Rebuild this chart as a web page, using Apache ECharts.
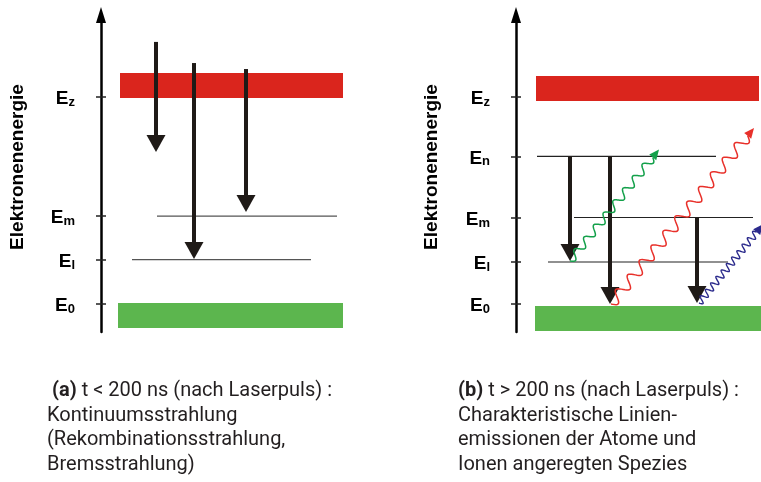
<!DOCTYPE html>
<html><head><meta charset="utf-8">
<script src="https://cdn.jsdelivr.net/npm/echarts@6/dist/echarts.min.js"></script>
<style>html,body{margin:0;padding:0;background:#fff}#c{width:761px;height:482px}</style>
</head><body><div id="c"></div>
<script>
// Energy scale (arbitrary units): E0 = 0, Ez = 100. x = distance from the energy axis.
const leftLevelNames = ['0', 'l', 'm', 'z'];
const leftLevelValues = [0, 21.5, 42.5, 100];
const rightLevelNames = ['0', 'l', 'm', 'n', 'z'];
const rightLevelValues = [0, 20.3, 41.8, 71.3, 100];

// bands: [xStart, xEnd, eLow, eHigh]
const leftRedBand = [19, 242, 99.5, 111.6];
const leftGreenBand = [17, 242, -11.6, 0.5];
const rightRedBand = [20, 243, 98.1, 110.1];
const rightGreenBand = [19, 245, -13, -1];

// level lines: [xStart, xEnd, energy]
const leftLines = [[56, 236, 42.5], [31, 210, 21.5]];
const rightLines = [[21, 200, 71.3], [58, 237, 41.8], [32, 212, 20.3]];

// transition arrows: [x, eFrom, eTo]
const leftArrows = [[55, 126.6, 73.4], [93, 116.4, 21.7], [145, 113.5, 44.4]];
const rightArrows = [[54, 71.3, 20.8], [94, 71.3, 0], [181, 41.8, 0.5]];

// emitted photons: [xStart, eStart, xEnd, eEnd]
const greenPhoton = [54, 20.8, 143, 74.6];
const redPhoton = [95, 0, 238, 85];
const bluePhoton = [183, 0.5, 247, 38.5];

const captionA = [' {b|(a)} t < 200 ns (nach Laserpuls) :', 'Kontinuumsstrahlung', '(Rekombinationsstrahlung,', 'Bremsstrahlung)'];
const captionB = ['{b|(b)} t > 200 ns (nach Laserpuls) :', 'Charakteristische Linien-', 'emissionen der Atome und', 'Ionen angeregten Spezies'];
const axisTitle = 'Elektronenenergie';

const E_MIN = -13.5, E_MAX = 139.6;
const labelFont = '"Liberation Sans", Arial, sans-serif';
const capFont = 'Roboto, "Liberation Sans", sans-serif';

function labelFormatter(values, names) {
  return function (v) {
    let idx = 0, best = Infinity;
    values.forEach((x, i) => { const d = Math.abs(x - v); if (d < best) { best = d; idx = i; } });
    return '{e|E}{s|' + names[idx] + '}';
  };
}
const labelRich = {
  e: { fontSize: 19, fontWeight: 'bold', fontFamily: labelFont, color: '#000', lineHeight: 22 },
  s: { fontSize: 13, fontWeight: 'bold', fontFamily: labelFont, color: '#000', lineHeight: 22, padding: [7, 0, 0, 0] }
};

function mainYAxis(grid, values, names) {
  return {
    type: 'value', gridIndex: grid, min: E_MIN, max: E_MAX, position: 'left',
    axisLine: { show: true, onZero: false, symbol: ['none', 'triangle'], symbolSize: [10, 16],
      lineStyle: { color: '#000', width: 2.5 } },
    axisTick: { show: true, customValues: values, length: 5, lineStyle: { color: '#222', width: 1.5 } },
    axisLabel: { show: true, customValues: values, margin: 26, formatter: labelFormatter(values, names),
      fontSize: 19, fontWeight: 'bold', fontFamily: labelFont, color: '#000',
      rich: labelRich, padding: [4, 0, 0, 0] },
    splitLine: { show: false }
  };
}
function innerYAxis(grid, values) {
  return {
    type: 'value', gridIndex: grid, min: E_MIN, max: E_MAX, position: 'left',
    axisLine: { show: false, onZero: false },
    axisTick: { show: true, inside: true, customValues: values, length: 5, lineStyle: { color: '#222', width: 1.5 } },
    axisLabel: { show: false },
    splitLine: { show: false }
  };
}

function bandSeries(xi, yi, items) {
  return {
    type: 'custom', xAxisIndex: xi, yAxisIndex: yi, silent: true,
    data: items,
    renderItem: function (params, api) {
      const p0 = api.coord([api.value(0), api.value(3)]);
      const p1 = api.coord([api.value(1), api.value(2)]);
      return { type: 'rect', shape: { x: p0[0], y: p0[1], width: p1[0] - p0[0], height: p1[1] - p0[1] },
        style: { fill: api.visual('color') } };
    }
  };
}
function lineSeries(xi, yi, items, color) {
  return {
    type: 'custom', xAxisIndex: xi, yAxisIndex: yi, silent: true, data: items,
    renderItem: function (params, api) {
      const p0 = api.coord([api.value(0), api.value(2)]);
      const p1 = api.coord([api.value(1), api.value(2)]);
      return { type: 'line', shape: { x1: p0[0], y1: p0[1], x2: p1[0], y2: p1[1] },
        style: { stroke: color, lineWidth: 1.2 } };
    }
  };
}
function arrowSeries(xi, yi, items) {
  return {
    type: 'custom', xAxisIndex: xi, yAxisIndex: yi, silent: true, data: items, z: 5,
    renderItem: function (params, api) {
      const a = api.coord([api.value(0), api.value(1)]);
      const b = api.coord([api.value(0), api.value(2)]);
      const headH = 17, headW = 19, shaftW = 4;
      return { type: 'group', children: [
        { type: 'rect', shape: { x: a[0] - shaftW / 2, y: a[1], width: shaftW, height: b[1] - headH - a[1] + 1 },
          style: { fill: '#1f1a17' } },
        { type: 'polygon', shape: { points: [[b[0] - headW / 2, b[1] - headH], [b[0] + headW / 2, b[1] - headH], [b[0], b[1]]] },
          style: { fill: '#1f1a17' } }
      ] };
    }
  };
}
function photonSeries(xi, yi, item, color, amp, periods, width) {
  return {
    type: 'custom', xAxisIndex: xi, yAxisIndex: yi, silent: true, data: [item], z: 6,
    renderItem: function (params, api) {
      const a = api.coord([api.value(0), api.value(1)]);
      const b = api.coord([api.value(2), api.value(3)]);
      const dx = b[0] - a[0], dy = b[1] - a[1];
      const len = Math.sqrt(dx * dx + dy * dy);
      const ux = dx / len, uy = dy / len, nx = -uy, ny = ux;
      const headL = 10, headW = 9;
      const waveLen = len - headL;
      const pts = [];
      const n = 240;
      for (let i = 0; i <= n; i++) {
        const t = i / n;
        const s = t * waveLen;
        const o = amp * Math.sin(t * periods * 2 * Math.PI);
        pts.push([a[0] + ux * s + nx * o, a[1] + uy * s + ny * o]);
      }
      const base = [a[0] + ux * waveLen, a[1] + uy * waveLen];
      return { type: 'group', children: [
        { type: 'polyline', shape: { points: pts }, style: { stroke: color, lineWidth: width, fill: null } },
        { type: 'polygon', shape: { points: [[base[0] + nx * headW / 2, base[1] + ny * headW / 2], [base[0] - nx * headW / 2, base[1] - ny * headW / 2], [b[0], b[1]]] },
          style: { fill: color } }
      ] };
    }
  };
}

const chart = echarts.init(document.getElementById('c'), null, { renderer: 'canvas' });
chart.setOption({
  animation: false,
  backgroundColor: '#fff',
  grid: [
    { left: 101, width: 250, top: 15, bottom: 150 },
    { left: 516, width: 245, top: 15, bottom: 150 }
  ],
  xAxis: [
    { type: 'value', gridIndex: 0, min: 0, max: 250, show: false },
    { type: 'value', gridIndex: 1, min: 0, max: 245, show: false }
  ],
  yAxis: [
    mainYAxis(0, leftLevelValues, leftLevelNames),
    innerYAxis(0, leftLevelValues),
    mainYAxis(1, rightLevelValues, rightLevelNames),
    innerYAxis(1, rightLevelValues)
  ],
  title: [
    { left: 47, top: 379, padding: 0, text: captionA.join('\n'),
      textStyle: { fontFamily: capFont, fontSize: 20, fontWeight: 'normal', color: '#231f20', lineHeight: 24.5,
        rich: { b: { fontFamily: capFont, fontSize: 20, fontWeight: 'bold', color: '#231f20', lineHeight: 24.5 } } } },
    { left: 458, top: 379, padding: 0, text: captionB.join('\n'),
      textStyle: { fontFamily: capFont, fontSize: 20, fontWeight: 'normal', color: '#231f20', lineHeight: 24.5,
        rich: { b: { fontFamily: capFont, fontSize: 20, fontWeight: 'bold', color: '#231f20', lineHeight: 24.5 } } } }
  ],
  graphic: [
    { type: 'text', x: 18, y: 167, rotation: Math.PI / 2,
      style: { text: axisTitle, font: 'bold 19px "Liberation Sans", Arial, sans-serif', fill: '#000', align: 'center', verticalAlign: 'middle', textAlign: 'center', textVerticalAlign: 'middle' } },
    { type: 'text', x: 432, y: 167, rotation: Math.PI / 2,
      style: { text: axisTitle, font: 'bold 19px "Liberation Sans", Arial, sans-serif', fill: '#000', align: 'center', verticalAlign: 'middle', textAlign: 'center', textVerticalAlign: 'middle' } }
  ],
  series: [
    bandSeries(0, 0, [{ value: leftRedBand, itemStyle: { color: '#da251d' } }, { value: leftGreenBand, itemStyle: { color: '#5cb64e' } }]),
    bandSeries(1, 2, [{ value: rightRedBand, itemStyle: { color: '#da251d' } }, { value: rightGreenBand, itemStyle: { color: '#5cb64e' } }]),
    lineSeries(0, 0, leftLines, '#555'),
    lineSeries(1, 2, rightLines, '#222'),
    arrowSeries(0, 0, leftArrows),
    arrowSeries(1, 2, rightArrows),
    photonSeries(1, 2, greenPhoton, '#13a04a', 4, 8.5, 1.5),
    photonSeries(1, 2, redPhoton, '#e8302a', 5.5, 11.5, 1.5),
    photonSeries(1, 2, bluePhoton, '#2b2a8c', 3.5, 11, 1.4)
  ]
});
</script>
</body></html>
